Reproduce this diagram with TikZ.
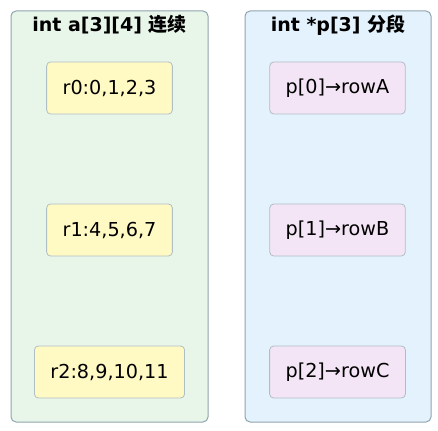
\documentclass[tikz,border=0pt]{standalone}
\usepackage{fontspec}
\setmainfont{DejaVu Sans}
\newfontfamily\cjk{Noto Sans CJK SC}
\usetikzlibrary{positioning}

\definecolor{clusterline}{HTML}{90A4AE}
\definecolor{greenfill}{HTML}{E8F5E9}
\definecolor{bluefill}{HTML}{E3F2FD}
\definecolor{cellline}{HTML}{B0BEC5}
\definecolor{yellowfill}{HTML}{FFF9C4}
\definecolor{pinkfill}{HTML}{F3E5F5}

\tikzset{
  cluster/.style={draw=clusterline, line width=1pt, rounded corners=5pt},
  title/.style={font=\fontsize{19}{22}\selectfont\bfseries, inner sep=0pt},
  cell/.style={draw=cellline, line width=0.8pt, rounded corners=4pt,
    minimum height=52pt, inner xsep=16pt, inner ysep=0pt,
    font=\fontsize{19.2}{23}\selectfont},
  rowcell/.style={cell, fill=yellowfill},
  ptrcell/.style={cell, fill=pinkfill}
}

\begin{document}
\begin{tikzpicture}[x=1pt,y=-1pt]
\useasboundingbox (0,0) rectangle (438,430);

% contiguous block
\draw[cluster, fill=greenfill] (11,11) rectangle (208,422);
\node[title] (ta) at (109.5,25) {int a[3][4] {\cjk 连续}};

\node[rowcell] (r0) at (109.5,88) {r0:0,1,2,3};
\node[rowcell] (r1) at (109.5,230) {r1:4,5,6,7};
\node[rowcell] (r2) at (109.5,372) {r2:8,9,10,11};

% pointer array
\draw[cluster, fill=bluefill] (245,11) rectangle (431,422);
\node[title] (tp) at (338,25) {int *p[3] {\cjk 分段}};

\node[ptrcell] (p0) at (337.5,88) {p[0]→rowA};
\node[ptrcell] (p1) at (337.5,230) {p[1]→rowB};
\node[ptrcell] (p2) at (337.5,372) {p[2]→rowC};

\end{tikzpicture}
\end{document}
